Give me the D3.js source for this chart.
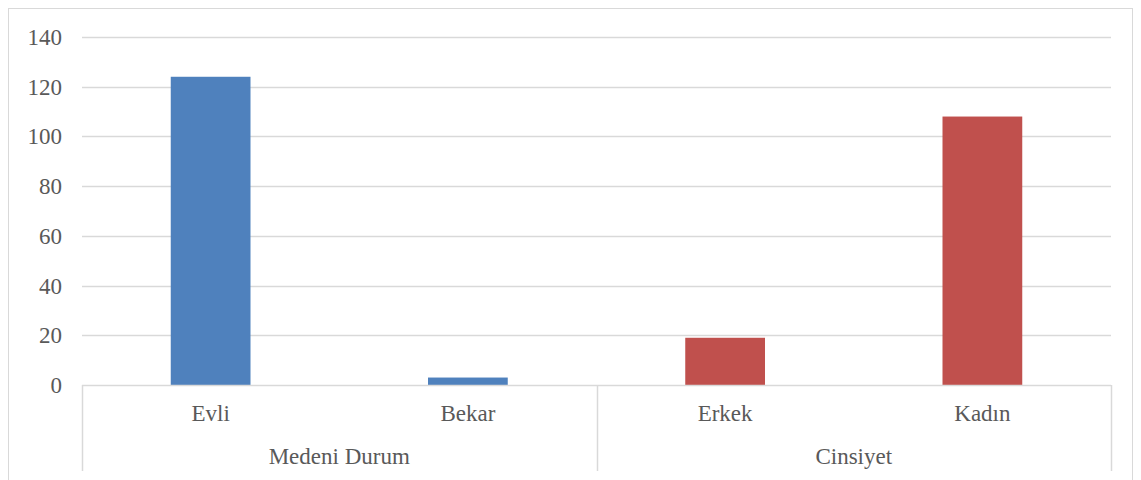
<!DOCTYPE html>
<html>
<head>
<meta charset="utf-8">
<script src="https://cdn.jsdelivr.net/npm/d3@7"></script>
<style>
  body { margin: 0; background: #fff; }
  text { font-family: "Liberation Serif", "Times New Roman", serif; fill: #595959; }
</style>
</head>
<body>
<svg width="1141" height="480"></svg>
<script>
// data
var categories = ["Evli", "Bekar", "Erkek", "Kadın"];
var groups = ["Medeni Durum", "Medeni Durum", "Cinsiyet", "Cinsiyet"];
var groupNames = ["Medeni Durum", "Cinsiyet"];
var values = [124, 3, 19, 108];
var yTicks = [0, 20, 40, 60, 80, 100, 120, 140];
var groupColors = {"Medeni Durum": "#4f81bd", "Cinsiyet": "#c0504d"};

var svg = d3.select("svg"),
    width = +svg.attr("width"),
    height = +svg.attr("height");

var plotLeft = 82, plotRight = 1111, plotTop = 37, plotBottom = 385;

// outer chart border
svg.append("rect")
    .attr("x", 8.5).attr("y", 8.5)
    .attr("width", 1124).attr("height", 500)
    .attr("fill", "none")
    .attr("stroke", "#d9d9d9");

var x = d3.scaleBand()
    .domain(categories)
    .range([plotLeft, plotRight])
    .paddingInner(0.69)
    .paddingOuter(0.345);

var xg = d3.scaleBand()
    .domain(groupNames)
    .range([plotLeft, plotRight]);

var y = d3.scaleLinear()
    .domain([0, 140])
    .range([plotBottom, plotTop]);

// gridlines
svg.append("g")
    .selectAll("line")
    .data(yTicks.slice(1))
    .enter().append("line")
    .attr("x1", plotLeft).attr("x2", plotRight)
    .attr("y1", function(d) { return Math.round(y(d)) + 0.5; })
    .attr("y2", function(d) { return Math.round(y(d)) + 0.5; })
    .attr("stroke", "#d9d9d9")
    .attr("stroke-width", 1.5);

// y labels
svg.append("g")
    .selectAll("text")
    .data(yTicks)
    .enter().append("text")
    .attr("x", 62)
    .attr("y", function(d) { return y(d); })
    .attr("dy", "0.35em")
    .attr("text-anchor", "end")
    .style("font-size", "23px")
    .text(function(d) { return d; });

// bars
svg.append("g")
    .selectAll("rect")
    .data(values)
    .enter().append("rect")
    .attr("x", function(d, i) { return x(categories[i]); })
    .attr("width", x.bandwidth())
    .attr("y", function(d) { return y(d); })
    .attr("height", function(d) { return y(0) - y(d); })
    .attr("fill", function(d, i) { return groupColors[groups[i]]; });

// baseline
svg.append("line")
    .attr("x1", plotLeft).attr("x2", plotRight)
    .attr("y1", plotBottom + 0.5).attr("y2", plotBottom + 0.5)
    .attr("stroke", "#d9d9d9")
    .attr("stroke-width", 1.5);

// group dividers
var dividers = [plotLeft, xg("Cinsiyet"), plotRight];
svg.append("g")
    .selectAll("line")
    .data(dividers)
    .enter().append("line")
    .attr("x1", function(d) { return Math.round(d) + 0.5; })
    .attr("x2", function(d) { return Math.round(d) + 0.5; })
    .attr("y1", plotBottom).attr("y2", 471)
    .attr("stroke", "#d9d9d9")
    .attr("stroke-width", 1.5);

// category labels
svg.append("g")
    .selectAll("text")
    .data(categories)
    .enter().append("text")
    .attr("x", function(d) { return x(d) + x.bandwidth() / 2; })
    .attr("y", 421)
    .attr("text-anchor", "middle")
    .style("font-size", "23px")
    .text(function(d) { return d; });

// group labels
svg.append("g")
    .selectAll("text")
    .data(groupNames)
    .enter().append("text")
    .attr("x", function(d) { return xg(d) + xg.bandwidth() / 2; })
    .attr("y", 464)
    .attr("text-anchor", "middle")
    .style("font-size", "23px")
    .text(function(d) { return d; });
</script>
</body>
</html>
